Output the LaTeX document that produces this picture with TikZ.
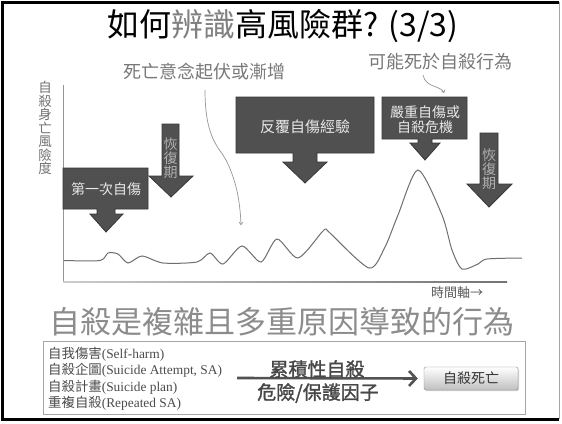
\documentclass[tikz,border=0pt]{standalone}
\usepackage{fontspec}
\setmainfont{Liberation Serif}
\newfontfamily\cjk{Noto Sans CJK TC}
\newfontfamily\cjkb[FakeBold=1.5]{Noto Sans CJK TC}
\usetikzlibrary{arrows.meta,shadows}
\definecolor{boxfill}{RGB}{80,80,80}
\definecolor{boxdraw}{RGB}{55,55,55}
\definecolor{boxtext}{RGB}{232,232,232}
\definecolor{rectext}{RGB}{175,175,175}
\definecolor{curvecol}{RGB}{110,110,110}
\definecolor{axiscol}{RGB}{150,150,150}
\definecolor{lighttext}{RGB}{120,120,120}
\definecolor{bigtext}{RGB}{140,140,140}
\newcommand\fsz[1]{\fontsize{#1}{#1}\selectfont}
\tikzset{
  callout/.style={fill=boxfill, draw=boxdraw, line width=0.8pt},
  intext/.style={inner sep=0pt, text=boxtext, font=\cjk\fsz{14}},
  rectxt/.style={inner sep=0pt, text=rectext, font=\cjk\fsz{14}, align=center},
  lbl/.style={inner sep=0pt, text=lighttext, font=\cjk\fsz{18}},
  listline/.style={inner sep=0pt, anchor=west, text=black!70, font=\fsz{13.4}},
  thinarrow/.style={draw=axiscol, line width=0.7pt, -{To[length=3pt,width=4pt]}},
}
\begin{document}
\begin{tikzpicture}[x=1pt,y=-1pt]
\useasboundingbox (0,0) rectangle (562,423);
\fill[white] (0,0) rectangle (562,423);
% frame
\draw[black, line width=3pt] (559,2) -- (2,2) -- (2,419) -- (559,419);
\draw[gray!70, line width=0.8pt] (559,2) -- (559,419);

% title
\node[inner sep=0pt, font=\cjk\fsz{32}] (title) at (283,26) {如何{\color{black!50}辨識}高風險群? (3/3)};

% labels
\node[lbl] (ideation) at (204,72) {死亡意念起伏或漸增};
\node[lbl] (mightdie) at (440,62) {可能死於自殺行為};
\coordinate (ideaStart) at (205,90);
\coordinate (ideaEnd) at (241,225);
\draw[thinarrow] (ideaStart) .. controls (205,140) and (220,148) .. (226,160) .. controls (236,180) and (240,200) .. (ideaEnd);
\coordinate (dieStart) at (423,75);
\coordinate (dieEnd) at (444,93);
\draw[thinarrow] (dieStart) .. controls (424,82) and (430,85) .. (436,87) .. controls (441,89) and (443,90) .. (dieEnd);

% axes
\node[inner sep=0pt, text=black!55, font=\cjk\fsz{13.5}, align=center] (ylabel) at (45,128) {自\\殺\\身\\亡\\風\\險\\度};
\coordinate (ytop) at (63,85);
\coordinate (origin) at (63,282);
\coordinate (xend) at (507,282);
\draw[axiscol, line width=1pt] (ytop) -- (origin);
\shade[left color=black!20, right color=black!55] (63,281.3) rectangle (507,282.7);
\node[inner sep=0pt, text=black!65, font=\cjk\fsz{13}] (timeaxis) at (457,293) {時間軸→};

% risk curve
\draw[curvecol, line width=1pt] plot[smooth, tension=0.45] coordinates {
 (64,260.5) (100,260.5) (108,253) (118,254) (128,263) (142,256) (163,263) (197,262)
 (210,253) (223,264) (242,246) (261,262) (277,239) (298,258) (322,232) (326,229) (330,233) (369,268)
 (385,247) (398,215) (418,170) (442,215) (452,250) (462,269) (478,264) (487,259) (522,258)};

% callout 1
\draw[callout] (63,168) -- (148,168) -- (148,209) -- (115,209) -- (115,214) -- (123,214)
  -- (106,232) -- (90,214) -- (97,214) -- (97,209) -- (63,209) -- cycle;
\node[intext] (first) at (106,189) {第一次自傷};

% recovery arrow 1
\draw[callout] (162,124) -- (179,124) -- (179,176) -- (193,176) -- (171,197) -- (149,176) -- (162,176) -- cycle;
\node[rectxt] (rec1) at (170.5,158) {恢\\[0pt]復\\[0pt]期};

% callout 2
\draw[callout] (236,97) -- (374,97) -- (374,153) -- (317,153) -- (317,162) -- (327,162)
  -- (305,183) -- (283,162) -- (293,162) -- (293,153) -- (236,153) -- cycle;
\node[intext, font=\cjk\fsz{15}] (repeat) at (305,127) {反覆自傷經驗};

% callout 3
\draw[callout] (382,97) -- (467,97) -- (467,139) -- (432,139) -- (432,143) -- (440,143)
  -- (425,160) -- (410,143) -- (418,143) -- (418,139) -- (382,139) -- cycle;
\node[intext, align=center] (crisis) at (425,120) {嚴重自傷或\\[1pt]自殺危機};

% recovery arrow 2
\draw[callout] (480,133) -- (498,133) -- (498,184) -- (512,184) -- (489,207) -- (467,184) -- (480,184) -- cycle;
\node[rectxt] (rec2) at (489,169) {恢\\[0pt]復\\[0pt]期};

% big statement
\node[inner sep=0pt, text=bigtext, font=\cjk\fsz{31}] (statement) at (282,322) {自殺是複雜且多重原因導致的行為};

% bottom box
\draw[black!35, line width=0.7pt] (43,341) rectangle (525,414);
\node[listline] (l1) at (48,354) {{\cjk 自我傷害}(Self-harm)};
\node[listline] (l2) at (48,370.5) {{\cjk 自殺企圖}(Suicide Attempt, SA)};
\node[listline] (l3) at (48,387) {{\cjk 自殺計畫}(Suicide plan)};
\node[listline] (l4) at (48,403) {{\cjk 重複自殺}(Repeated SA)};

\node[inner sep=0pt, minimum width=94pt, minimum height=23pt, draw=black!45, rounded corners=1.5pt,
  top color=white, bottom color=black!25, drop shadow={shadow xshift=1pt, shadow yshift=-1.2pt, opacity=0.35},
  font=\cjk\fsz{14}, text=black!80] (death) at (471,378.5) {自殺死亡};

\coordinate (arrStart) at (237,378);
\draw[draw=black!68, line width=2.6pt, shorten >=6pt, -{Straight Barb[length=7pt,width=15pt,line width=2.6pt]}] (arrStart) -- (death.west);
\node[inner sep=0pt, text=black!72, font=\cjkb\fsz{19}] (cum) at (317,369) {累積性自殺};
\node[inner sep=0pt, text=black!72, font=\cjkb\fsz{19}] (factors) at (318,393) {危險/保護因子};
\end{tikzpicture}
\end{document}
